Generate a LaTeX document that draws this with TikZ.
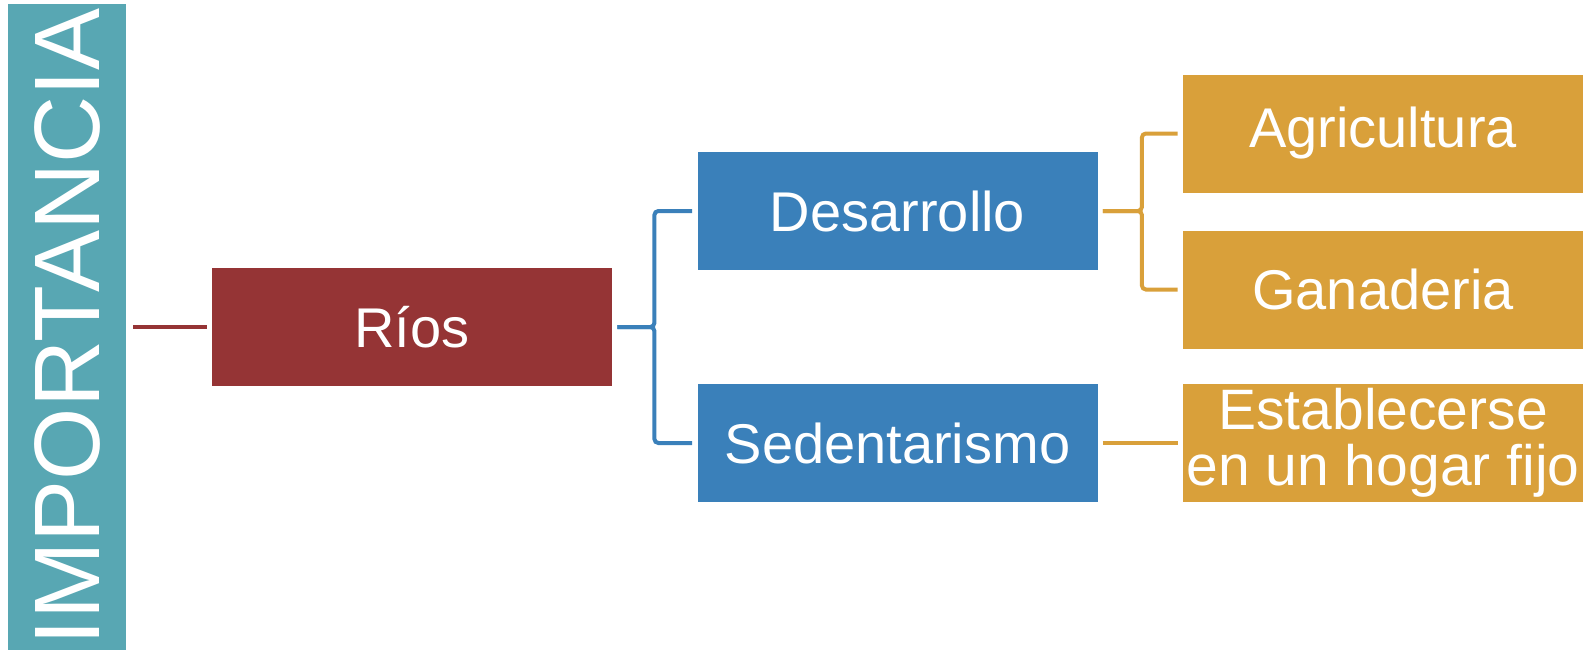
\documentclass[tikz,border=0pt]{standalone}
\usepackage{fontspec}
\setmainfont{Liberation Sans}

\definecolor{impteal}{RGB}{88,167,179}
\definecolor{riosred}{RGB}{149,52,53}
\definecolor{ramablue}{RGB}{58,128,186}
\definecolor{hojagold}{RGB}{217,160,58}

\tikzset{
	caja/.style={minimum width=200pt, minimum height=59pt, inner sep=0pt,
		text=white, align=center, font=\fontsize{28}{28}\selectfont},
	rama/.style={line width=2pt, rounded corners=2pt,
		shorten <=2.5pt, shorten >=2.5pt},
}

\begin{document}
\begin{tikzpicture}[x=0.5pt, y=-0.5pt]
	\useasboundingbox (0,0) rectangle (1586,649);

	% === NODES === (((
	\node[caja, fill=impteal, rotate=90, minimum width=323pt,
		font=\fontsize{46.5}{46.5}\selectfont] (imp) at (67,327) {IMPORTANCIA};

	\node[caja, fill=riosred] (rios) at (412,327) {Ríos};

	\node[caja, fill=ramablue] (des) at (897.5,211) {Desarrollo};
	\node[caja, fill=ramablue] (sed) at (897.5,443) {Sedentarismo};

	\node[caja, fill=hojagold] (agr) at (1383,133.5) {Agricultura};
	\node[caja, fill=hojagold] (gan) at (1383,289.5) {Ganaderia};
	\node[caja, fill=hojagold, font=\fontsize{28.5}{28}\selectfont]
		(est) at (1383,443) {Establecerse\\en un hogar fijo};
	% )))

	% === LINES === (((
	\draw[rama, riosred, shorten <=3.5pt] (imp.south) -- (rios.west);

	\draw[rama, ramablue] (rios.east) -- ++(42,0) |- (des.west);
	\draw[rama, ramablue] (rios.east) -- ++(42,0) |- (sed.west);

	\draw[rama, hojagold] (des.east) -- ++(44,0) |- (agr.west);
	\draw[rama, hojagold] (des.east) -- ++(44,0) |- (gan.west);

	\draw[rama, hojagold] (sed.east) -- (est.west);
	% )))

\end{tikzpicture}
\end{document}
